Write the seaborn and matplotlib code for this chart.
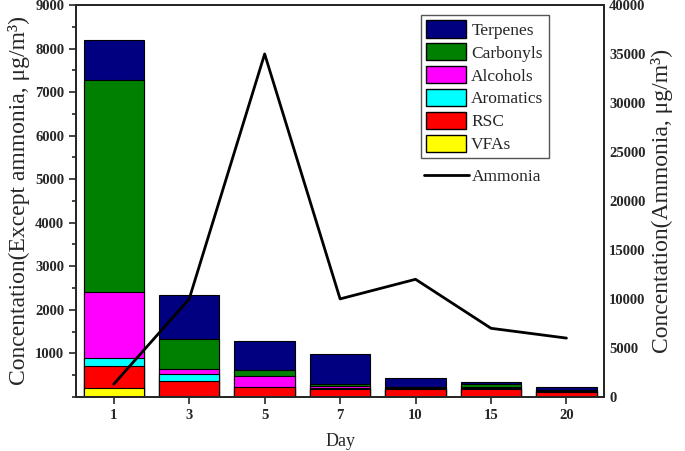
import numpy as np
import pandas as pd
import matplotlib
matplotlib.use("Agg")
import matplotlib.pyplot as plt
import seaborn as sns
from matplotlib.patches import Patch
from matplotlib.lines import Line2D
from matplotlib.ticker import MultipleLocator

# dados
days = ["1", "3", "5", "7", "10", "15", "20"]
vfas = [210, 20, 5, 5, 5, 5, 5]
rsc = [500, 340, 215, 185, 170, 170, 115]
aromatics = [190, 155, 10, 10, 10, 25, 5]
alcohols = [1500, 130, 255, 40, 30, 20, 25]
carbonyls = [4880, 690, 140, 60, 20, 70, 15]
terpenes = [920, 1005, 660, 680, 195, 55, 55]
ammonia = [1300, 10000, 35000, 10000, 12000, 7000, 6000]

groups = ["Terpenes", "Carbonyls", "Alcohols", "Aromatics", "RSC", "VFAs"]
colors = ["#000080", "#008000", "#FF00FF", "#00FFFF", "#FF0000", "#FFFF00"]

df = pd.DataFrame({"Day": days, "VFAs": vfas, "RSC": rsc, "Aromatics": aromatics,
                   "Alcohols": alcohols, "Carbonyls": carbonyls, "Terpenes": terpenes})

sns.set_theme(style="ticks")
plt.rcParams["font.family"] = ["Liberation Serif", "DejaVu Serif"]

fig = plt.figure(figsize=(6.85, 4.51), dpi=100)
ax = fig.add_axes([0.111, 0.12, 0.771, 0.869])

# barras empilhadas: soma acumulada desenhada de cima para baixo
stack_order = ["VFAs", "RSC", "Aromatics", "Alcohols", "Carbonyls", "Terpenes"]
cum = df[stack_order].cumsum(axis=1)
for g, c in zip(groups, colors):
    sns.barplot(x=df["Day"], y=cum[g], color=c, edgecolor="black", linewidth=0.8,
                width=0.8, saturation=1, ax=ax)

ax.set_xlim(-0.5, 6.5)
ax.set_ylim(0, 9000)
ax.set_yticks(np.arange(1000, 9001, 1000))
ax.yaxis.set_minor_locator(MultipleLocator(500))
ax.set_xlabel("Day", fontsize=13, labelpad=8)
ax.set_ylabel("Concentation(Except ammonia, μg/m³)", fontsize=17)
ax.tick_params(axis="both", which="major", direction="out", length=5, width=1.2, labelsize=10.5)
ax.tick_params(axis="y", which="minor", direction="out", length=3, width=1.2)
for lab in ax.get_xticklabels() + ax.get_yticklabels():
    lab.set_fontweight("bold")
for s in ax.spines.values():
    s.set_linewidth(1.3)

# amônia no eixo secundário
ax2 = ax.twinx()
sns.lineplot(x=np.arange(len(days)), y=ammonia, color="black", linewidth=2, ax=ax2)
ax2.set_ylim(0, 40000)
ax2.set_yticks(np.arange(0, 40001, 5000))
ax2.set_ylabel("Concentation(Ammonia, μg/m³)", fontsize=17)
ax2.tick_params(axis="y", direction="out", length=0, labelsize=10.5)
for lab in ax2.get_yticklabels():
    lab.set_fontweight("bold")
ax.set_xlim(-0.5, 6.5)

handles = [Patch(facecolor=c, edgecolor="black", label=g) for g, c in zip(groups, colors)]
leg1 = ax2.legend(handles=handles, loc="upper left", bbox_to_anchor=(0.653, 0.974),
                  fontsize=12.5, handlelength=2.3, handleheight=1.15, labelspacing=0.25,
                  handletextpad=0.3, borderpad=0.3, borderaxespad=0, fancybox=False,
                  edgecolor="#555555", framealpha=1)
leg1.get_frame().set_linewidth(1.0)
ax2.add_artist(leg1)
ax2.legend(handles=[Line2D([0], [0], color="black", lw=2, label="Ammonia")],
           loc="upper left", bbox_to_anchor=(0.645, 0.6), fontsize=12.5,
           handlelength=2.6, handletextpad=0.2, frameon=False, borderaxespad=0)

plt.savefig("out.png", dpi=100)
plt.close()
